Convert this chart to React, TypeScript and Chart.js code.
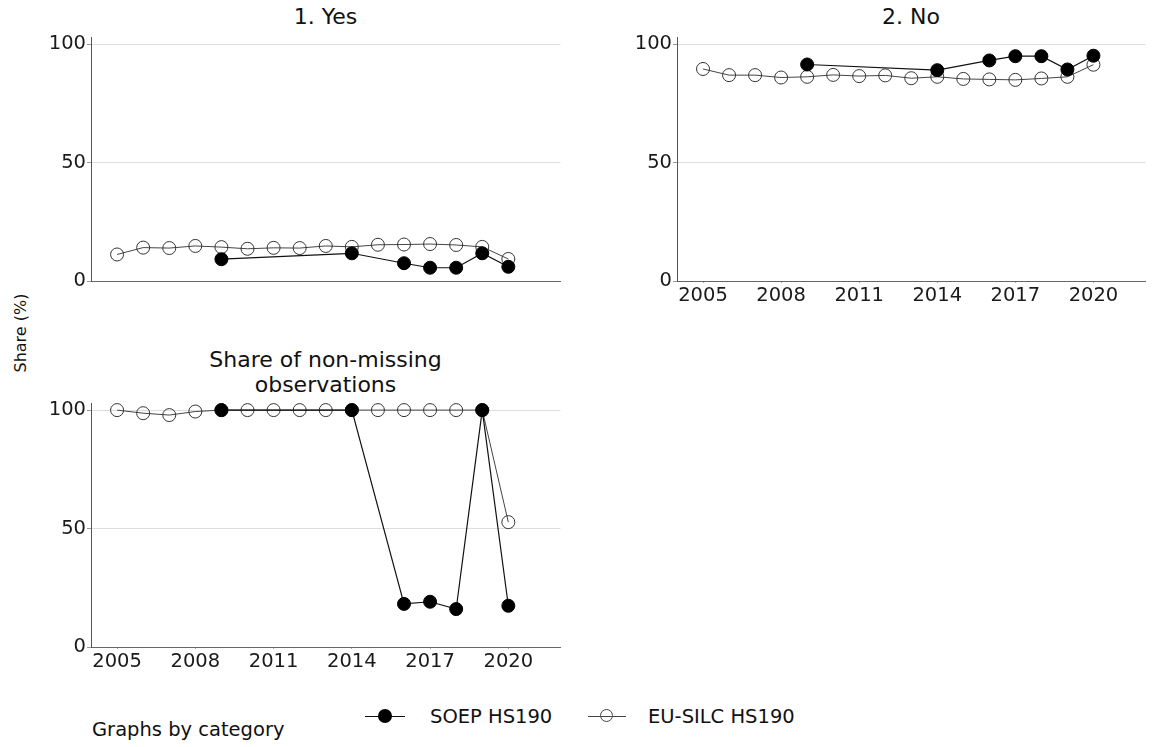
import React, { useEffect, useRef } from "react";
import { Chart, registerables } from "chart.js";

Chart.register(...registerables);

const FONT = "'DejaVu Sans', sans-serif";

// ---- data ----
const years = [2005, 2006, 2007, 2008, 2009, 2010, 2011, 2012, 2013, 2014, 2015, 2016, 2017, 2018, 2019, 2020];
const soepYears = [2009, 2014, 2016, 2017, 2018, 2019, 2020];
const xTickValues = [2005, 2008, 2011, 2014, 2017, 2020];
const yTickValues = [0, 50, 100];

const yesEU = [11.2, 14.1, 13.9, 14.8, 14.3, 13.6, 14.0, 13.9, 14.8, 14.4, 15.3, 15.4, 15.6, 15.2, 14.4, 9.3];
const yesSOEP = [9.2, 11.7, 7.5, 5.6, 5.6, 11.7, 6.0];

const noEU = [89.5, 86.9, 86.9, 85.9, 86.2, 87.0, 86.5, 86.8, 85.6, 86.2, 85.3, 85.1, 84.9, 85.5, 86.2, 91.3];
const noSOEP = [91.4, 89.0, 93.1, 94.9, 94.9, 89.3, 95.1];

const shareEU = [100, 98.7, 97.9, 99.4, 100, 100, 100, 100, 100, 100, 100, 100, 100, 100, 100, 52.7];
const shareSOEP = [100, 100, 18.2, 19.1, 16.0, 100, 17.4];

const seriesLabels = ["SOEP HS190", "EU-SILC HS190"];

type PanelProps = {
  left: number;
  top: number;
  width: number;
  height: number;
  soep: number[];
  eu: number[];
  showX: boolean;
};

function Panel({ left, top, width, height, soep, eu, showX }: PanelProps) {
  const ref = useRef<HTMLCanvasElement | null>(null);
  useEffect(() => {
    if (!ref.current) return;
    const chart = new Chart(ref.current, {
      type: "line",
      data: {
        datasets: [
          {
            label: seriesLabels[0],
            data: soepYears.map((x, i) => ({ x, y: soep[i] })),
            borderColor: "#111",
            backgroundColor: "#000",
            pointBackgroundColor: "#000",
            pointBorderColor: "#000",
            pointRadius: 6.5,
            pointBorderWidth: 1,
            borderWidth: 1.2,
            clip: false as any,
          },
          {
            label: seriesLabels[1],
            data: years.map((x, i) => ({ x, y: eu[i] })),
            borderColor: "#444",
            backgroundColor: "rgba(0,0,0,0)",
            pointBackgroundColor: "rgba(255,255,255,0)",
            pointBorderColor: "#333",
            pointRadius: 6.5,
            pointBorderWidth: 1,
            borderWidth: 1,
            clip: false as any,
          },
        ],
      },
      options: {
        animation: false,
        responsive: false,
        maintainAspectRatio: false,
        layout: { padding: { top: 20, bottom: showX ? 0 : 20, left: 0, right: 0 } },
        plugins: { legend: { display: false }, tooltip: { enabled: false }, title: { display: false } },
        elements: { line: { tension: 0 } },
        scales: {
          x: {
            type: "linear",
            min: 2004,
            max: 2022,
            afterBuildTicks: (s: any) => {
              s.ticks = xTickValues.map((v) => ({ value: v }));
            },
            afterFit: (s: any) => {
              s.height = showX ? 30 : 0;
            },
            ticks: {
              display: showX,
              font: { family: FONT, size: 19.5 },
              color: "#1a1a1a",
              padding: 1,
              maxRotation: 0,
              autoSkip: false,
              callback: (v: any) => String(v),
            },
            grid: { display: showX, drawOnChartArea: false, drawTicks: true, tickLength: 2, tickColor: "#aaa" },
            border: { display: true, color: "#666", width: 1 },
          },
          y: {
            type: "linear",
            min: 0,
            max: 103,
            afterBuildTicks: (s: any) => {
              s.ticks = yTickValues.map((v) => ({ value: v }));
            },
            afterFit: (s: any) => {
              s.width = 50;
            },
            ticks: {
              font: { family: FONT, size: 19.5 },
              color: "#1a1a1a",
              padding: 1,
              callback: (v: any) => String(v),
            },
            grid: { color: "#dedede", tickColor: "#999", tickLength: 4, drawTicks: true },
            border: { display: true, color: "#555", width: 1 },
          },
        },
      },
    } as any);
    return () => chart.destroy();
  }, []);
  return (
    <div style={{ position: "absolute", left, top, width, height }}>
      <canvas ref={ref} width={width} height={height} style={{ width, height, display: "block" }} />
    </div>
  );
}

const textBase: React.CSSProperties = {
  position: "absolute",
  fontFamily: FONT,
  color: "#111",
  whiteSpace: "nowrap",
};

export default function App() {
  return (
    <div
      style={{
        position: "absolute",
        left: 0,
        top: 0,
        width: 1152,
        height: 747,
        background: "#fff",
        overflow: "hidden",
      }}
    >
      {/* titles */}
      <div style={{ ...textBase, left: 91, width: 469, top: 3, fontSize: 22, lineHeight: "28px", textAlign: "center" }}>1. Yes</div>
      <div style={{ ...textBase, left: 677, width: 468, top: 3, fontSize: 22, lineHeight: "28px", textAlign: "center" }}>2. No</div>
      <div style={{ ...textBase, left: 91, width: 469, top: 347, fontSize: 22, lineHeight: "25px", textAlign: "center", whiteSpace: "normal" }}>
        Share of non-missing
        <br />
        observations
      </div>

      <Panel left={41} top={17} width={527} height={284} soep={yesSOEP} eu={yesEU} showX={false} />
      <Panel left={627} top={17} width={526} height={294} soep={noSOEP} eu={noEU} showX={true} />
      <Panel left={41} top={383} width={527} height={294} soep={shareSOEP} eu={shareEU} showX={true} />

      {/* y-axis title */}
      <div
        style={{
          ...textBase,
          left: 20,
          top: 333,
          fontSize: 16,
          transform: "translate(-50%, -50%) rotate(-90deg)",
        }}
      >
        Share (%)
      </div>

      {/* legend */}
      <div style={{ position: "absolute", left: 365, top: 716, width: 40, height: 1.3, background: "#111" }} />
      <div style={{ position: "absolute", left: 378, top: 709, width: 14, height: 14, borderRadius: "50%", background: "#000" }} />
      <div style={{ ...textBase, left: 430, top: 704, fontSize: 19.5, lineHeight: "26px" }}>{seriesLabels[0]}</div>

      <div style={{ position: "absolute", left: 588, top: 716, width: 38, height: 1, background: "#444" }} />
      <div
        style={{
          position: "absolute",
          left: 600,
          top: 709,
          width: 13,
          height: 13,
          boxSizing: "border-box",
          borderRadius: "50%",
          border: "1px solid #444",
        }}
      />
      <div style={{ ...textBase, left: 648, top: 704, fontSize: 19.5, lineHeight: "26px" }}>{seriesLabels[1]}</div>

      <div style={{ ...textBase, left: 92, top: 717, fontSize: 19.5, lineHeight: "26px" }}>Graphs by category</div>
    </div>
  );
}
